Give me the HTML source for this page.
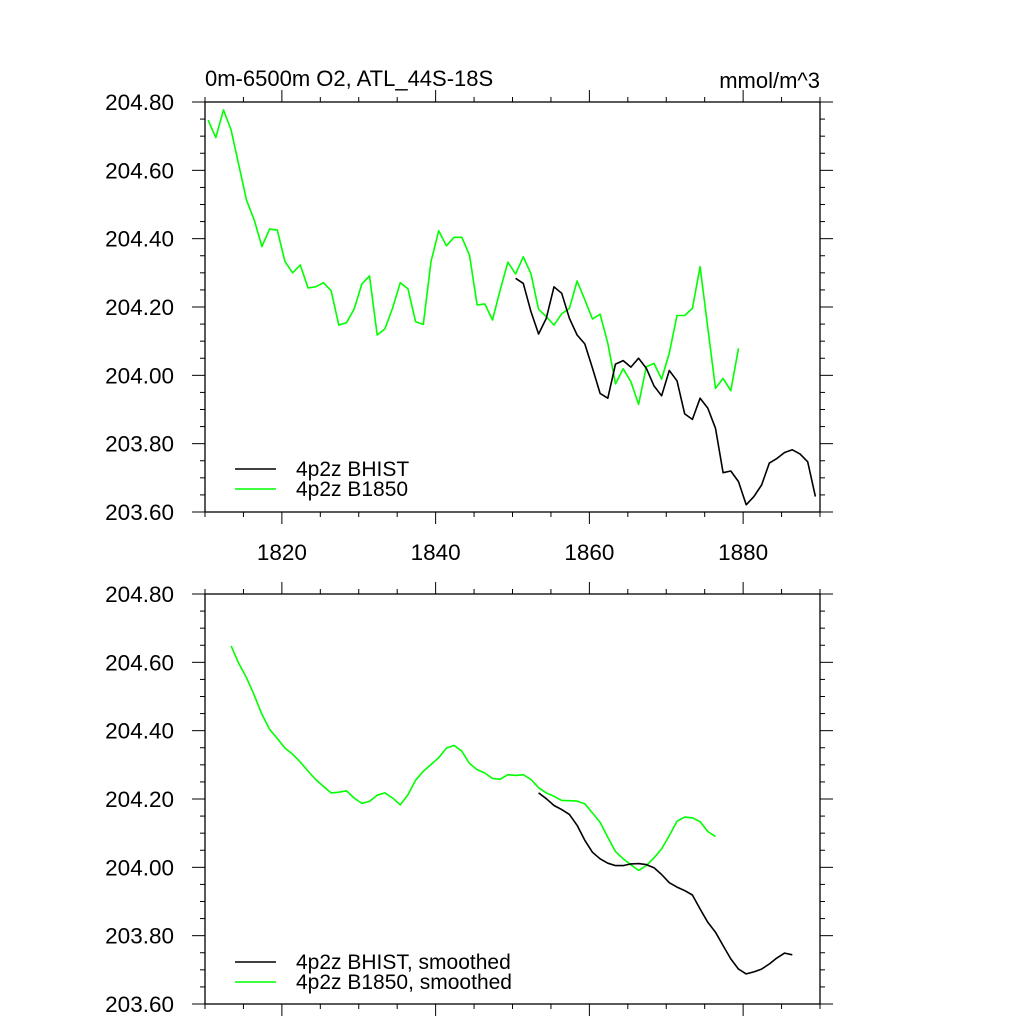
<!DOCTYPE html>
<html><head><meta charset="utf-8"><style>
body{margin:0;background:#fff}
svg{display:block;font-family:"Liberation Sans",Arial,sans-serif}
</style></head><body>
<svg id="c" width="1024" height="1024" viewBox="0 0 1024 1024"></svg>
<script>
// ---- data ----
const greenStartYear = 1810.4;
const green = [204.747,204.696,204.777,204.718,204.616,204.513,204.455,204.377,204.428,204.425,204.333,204.300,204.323,204.256,204.259,204.271,204.248,204.147,204.154,204.194,204.267,204.291,204.118,204.136,204.197,204.271,204.253,204.157,204.149,204.333,204.423,204.379,204.404,204.404,204.352,204.206,204.209,204.162,204.250,204.331,204.297,204.347,204.297,204.193,204.172,204.147,204.180,204.196,204.276,204.221,204.165,204.179,204.094,203.975,204.019,203.981,203.915,204.025,204.035,203.989,204.065,204.175,204.175,204.196,204.318,204.139,203.962,203.991,203.955,204.079];
const blackStartYear = 1850.4;
const black = [204.284,204.269,204.186,204.121,204.167,204.259,204.240,204.167,204.118,204.092,204.021,203.947,203.933,204.033,204.043,204.024,204.050,204.021,203.969,203.940,204.014,203.984,203.887,203.871,203.933,203.904,203.845,203.715,203.720,203.689,203.621,203.645,203.679,203.743,203.757,203.774,203.782,203.770,203.747,203.645];
const greenSmStartYear = 1813.4;
const greenSm = [204.648,204.597,204.555,204.504,204.448,204.404,204.377,204.349,204.331,204.308,204.282,204.257,204.237,204.218,204.220,204.224,204.203,204.187,204.193,204.211,204.218,204.203,204.183,204.213,204.255,204.281,204.301,204.321,204.349,204.357,204.340,204.304,204.286,204.276,204.260,204.258,204.271,204.269,204.271,204.257,204.233,204.218,204.208,204.196,204.195,204.194,204.186,204.159,204.132,204.088,204.046,204.025,204.007,203.991,204.005,204.028,204.054,204.093,204.135,204.147,204.145,204.134,204.105,204.090];
const blackSmStartYear = 1853.4;
const blackSm = [204.218,204.201,204.181,204.169,204.155,204.123,204.079,204.044,204.025,204.012,204.005,204.005,204.010,204.011,204.008,203.999,203.979,203.955,203.942,203.932,203.919,203.878,203.839,203.810,203.771,203.732,203.702,203.688,203.694,203.702,203.717,203.735,203.749,203.744];
const xTickLabels = [1820,1840,1860,1880];
const yTickLabels = ["204.80","204.60","204.40","204.20","204.00","203.80","203.60"];

const NS="http://www.w3.org/2000/svg";
const svg=document.getElementById('c');
function mk(tag,attrs,parent){const e=document.createElementNS(NS,tag);for(const k in attrs)e.setAttribute(k,attrs[k]);(parent||svg).appendChild(e);return e;}
const X0=205,X1=820,YR0=1810,YR1=1890,V0=203.6,V1=204.8;
function xs(yr){return X0+(yr-YR0)/(YR1-YR0)*(X1-X0);}

function panel(top,name,showXLabels,series,legend){
  const bot=top+410;
  const ys=v=>bot-(v-V0)/(V1-V0)*(bot-top);
  const g=mk('g',{});
  
  
  const fr=mk('rect',{x:X0,y:top,width:X1-X0,height:bot-top,fill:'none',stroke:'#000','stroke-width':1.3},g);
  
  
  for(let yr=1810;yr<=1890;yr+=5){
    const x=xs(yr),maj=yr%20===0,L=maj?12:5;
    mk('line',{x1:x,x2:x,y1:bot,y2:bot+L,stroke:'#000','stroke-width':1},g);
    mk('line',{x1:x,x2:x,y1:top,y2:top-L,stroke:'#000','stroke-width':1},g);
  }
  for(let k=0;k<=24;k++){
    const v=V0+k*0.05,y=ys(v),maj=k%4===0,L=maj?13:5;
    mk('line',{x1:X0,x2:X0-L,y1:y,y2:y,stroke:'#000','stroke-width':1},g);
    mk('line',{x1:X1,x2:X1+L,y1:y,y2:y,stroke:'#000','stroke-width':1},g);
  }
  yTickLabels.forEach((lab,i)=>{
    const v=parseFloat(lab);
    const t=mk('text',{x:174,y:ys(v)+8,'text-anchor':'end','font-size':22.5},g);
    t.textContent=lab;
    
    
  });
  if(showXLabels){
    xTickLabels.forEach(yr=>{
      const t=mk('text',{x:xs(yr),y:560,'text-anchor':'middle','font-size':22.5},g);
      t.textContent=yr;
      
      
    });
  }
  series.forEach(s=>{
    const pts=s.data.map((v,i)=>xs(s.start+i).toFixed(1)+','+ys(v).toFixed(1)).join(' ');
    const p=mk('polyline',{points:pts,fill:'none',stroke:s.color,'stroke-width':1.6,'stroke-linejoin':'round'},g);
    
    
  });
  legend.forEach((l,i)=>{
    const y=l.y;
    const ln=mk('line',{x1:235,x2:276,y1:y,y2:y,stroke:l.color,'stroke-width':1.6},g);
    
    
    const t=mk('text',{x:296,y:y+7,'font-size':21},g);
    t.textContent=l.label;
    
    
  });
}
panel(102,'top-panel',true,[
  {data:green,start:greenStartYear,color:'#00ff00',name:'b1850-line'},
  {data:black,start:blackStartYear,color:'#000',name:'bhist-line'}
],[{y:469,color:'#000',label:'4p2z BHIST'},{y:489,color:'#00ff00',label:'4p2z B1850'}]);
panel(594,'bottom-panel',false,[
  {data:greenSm,start:greenSmStartYear,color:'#00ff00',name:'b1850-smoothed-line'},
  {data:blackSm,start:blackSmStartYear,color:'#000',name:'bhist-smoothed-line'}
],[{y:962,color:'#000',label:'4p2z BHIST, smoothed'},{y:982,color:'#00ff00',label:'4p2z B1850, smoothed'}]);

const t1=mk('text',{x:205,y:86,'font-size':22});
t1.textContent='0m-6500m O2, ATL_44S-18S';


const t2=mk('text',{x:820,y:88,'font-size':22,'text-anchor':'end'});
t2.textContent='mmol/m^3';


</script>
</body></html>
